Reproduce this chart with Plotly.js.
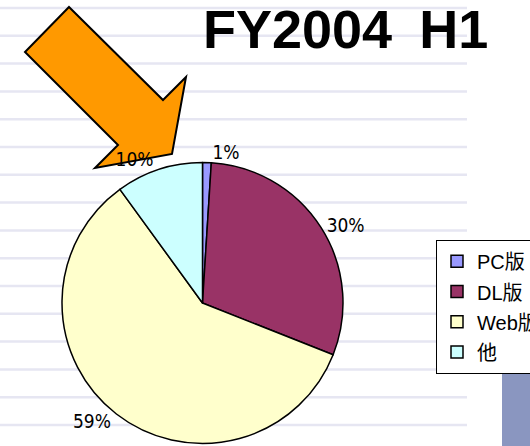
<!DOCTYPE html>
<html><head><meta charset="utf-8">
<script src="https://cdn.plot.ly/plotly-3.0.1.min.js"></script>
<style>html,body{margin:0;padding:0;background:#fff;}#chart{width:530px;height:446px;}</style>
</head><body><div id="chart"></div>
<script>
const categories = ['PC版', 'DL版', 'Web版', '他'];
const shares = [1, 30, 59, 10];
const sliceColors = ['#9999FF', '#993366', '#FFFFCC', '#CCFFFF'];
const titleText = 'FY2004\u2002H1';

const W = 530, H = 446;
const px = x => x / W;
const py = y => 1 - y / H;

const shapes = [];
for (let k = 0; k < 16; k++) {
  const y = 8 + 27.8 * k;
  shapes.push({type: 'line', xref: 'paper', yref: 'paper', layer: 'below',
    x0: 0, x1: px(467), y0: py(y), y1: py(y), line: {color: '#E6E6F2', width: 2.5}});
}
// orange arrow
const arrowPts = [[69,7],[163,100],[186,77],[172,154],[95,168],[118,145],[25,52]];
shapes.push({type: 'path', xref: 'paper', yref: 'paper', layer: 'below',
  path: 'M' + arrowPts.map(p => px(p[0]).toFixed(5) + ',' + py(p[1]).toFixed(5)).join('L') + 'Z',
  fillcolor: '#FF9900', line: {color: '#000', width: 2}});
// blue-grey block at bottom right
shapes.push({type: 'rect', xref: 'paper', yref: 'paper', layer: 'below',
  x0: px(502), x1: px(531), y0: py(369), y1: py(447), fillcolor: '#8A96C0', line: {width: 0}});

const legendLabels = categories.map(c => '<span style="font-size:20px">' + c + '</span>');

const trace = {
  type: 'pie', labels: legendLabels, values: shares, sort: false,
  direction: 'clockwise', rotation: 0,
  marker: {colors: sliceColors, line: {color: '#000', width: 1.5}},
  textposition: 'outside',
  texttemplate: '%{percent:.0%}',
  outsidetextfont: {family: 'Liberation Sans Narrow, DejaVu Sans Condensed, Arial, sans-serif', size: 19, color: '#000'},
  domain: {x: [px(62), px(343)], y: [py(443.5), py(162.5)]},
  hoverinfo: 'percent'
};

const layout = {
  width: W, height: H, margin: {l: 0, r: 0, t: 0, b: 0, autoexpand: false},
  paper_bgcolor: '#fff', plot_bgcolor: '#fff',
  showlegend: true,
  legend: {x: px(436), y: py(240), xanchor: 'left', yanchor: 'top',
    bgcolor: '#fff', bordercolor: '#000', borderwidth: 1,
    font: {family: 'Liberation Sans, Arial, Noto Sans CJK JP, sans-serif', size: 21, color: '#000'}},
  shapes: shapes,
  annotations: [{xref: 'paper', yref: 'paper', x: px(345.5), y: py(29), xanchor: 'center', yanchor: 'middle',
    text: '<b>' + titleText + '</b>', showarrow: false,
    font: {family: 'Liberation Sans, Arial, sans-serif', size: 54, color: '#000'}}]
};
Plotly.newPlot('chart', [trace], layout, {displayModeBar: false, staticPlot: true});
</script></body></html>
